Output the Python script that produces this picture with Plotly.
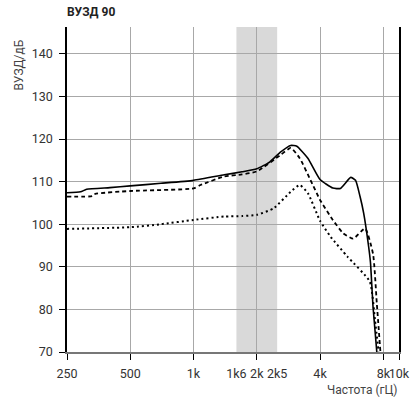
import math
import plotly.graph_objects as go

# ---- data (frequency in Hz, level in dB) ----
freq_solid = [250, 290, 310, 400, 500, 700, 1000, 1400, 1700, 2000, 2300, 2600, 2900, 3100, 3500, 4000, 4600, 5000, 5600, 5900, 6200, 6450, 6800, 6950, 7150, 7450]
lvl_solid = [107.4, 107.6, 108.2, 108.6, 109.0, 109.6, 110.3, 111.6, 112.3, 113.0, 114.6, 117.0, 118.5, 118.3, 115.5, 110.5, 108.5, 108.4, 111.0, 110.3, 106.5, 102.6, 95.0, 91.0, 80.5, 70.0]

freq_dash = [250, 330, 340, 500, 1000, 1080, 1400, 1700, 2000, 2600, 2900, 3200, 3600, 4000, 4600, 5150, 5750, 6550, 7150, 7450, 7750]
lvl_dash = [106.5, 106.6, 107.1, 107.8, 108.4, 109.2, 111.2, 111.7, 112.4, 116.3, 117.9, 115.5, 110.4, 105.7, 101.0, 97.9, 96.6, 99.0, 93.0, 81.4, 70.0]

freq_dot = [250, 500, 700, 1000, 1400, 1700, 2000, 2400, 2900, 3200, 3500, 4000, 4500, 5400, 6900, 7300, 7600]
lvl_dot = [98.9, 99.3, 100.0, 101.0, 101.8, 101.9, 102.2, 103.7, 107.6, 109.2, 107.3, 100.8, 97.0, 92.4, 86.5, 77.5, 70.0]

label_vals = [250, 500, 1000, 1600, 2000, 2500, 4000, 8000, 9500]
label_text = ["250", "500", "1k", "1k6", "2k", "2k5", "4k", "8k", "10k"]
grid_vals = [250, 500, 1000, 2000, 4000, 8000, 9500]
y_ticks = [70, 80, 90, 100, 110, 120, 130, 140]
band = [1600, 2500]

X_RANGE = [250, 9500]
Y_RANGE = [70, 146.3]
xr = [math.log10(X_RANGE[0]), math.log10(X_RANGE[1])]

FONT = "Roboto, Arial, sans-serif"

fig = go.Figure()
fig.add_trace(go.Scatter(x=freq_dot, y=lvl_dot, mode="lines",
                         line=dict(color="black", width=2, dash="2px,3px", shape="spline", smoothing=0.5),
                         showlegend=False, hoverinfo="skip"))
fig.add_trace(go.Scatter(x=freq_dash, y=lvl_dash, mode="lines",
                         line=dict(color="black", width=1.8, dash="4px,3px", shape="spline", smoothing=0.5),
                         showlegend=False, hoverinfo="skip"))
fig.add_trace(go.Scatter(x=freq_solid, y=lvl_solid, mode="lines",
                         line=dict(color="black", width=1.6, shape="spline", smoothing=0.5),
                         showlegend=False, hoverinfo="skip"))

fig.add_shape(type="rect", xref="x", yref="paper", x0=band[0], x1=band[1], y0=0, y1=1,
              fillcolor="#d9d9d9", line=dict(width=0), layer="below")

fig.update_layout(
    width=410, height=401,
    margin=dict(l=66.5, r=11, t=27, b=49.3, autoexpand=False),
    paper_bgcolor="white", plot_bgcolor="white",
    font=dict(family=FONT, size=12.5, color="#333"),
    xaxis=dict(type="log", range=xr, tickmode="array", tickvals=label_vals, ticktext=label_text,
               tickangle=0, ticks="", showgrid=False, zeroline=False, automargin=False,
               showline=True, linecolor="#777", linewidth=2,
               ticklabelstandoff=9, tickfont=dict(size=12.5, color="#333"),
               minor=dict(tickmode="array", tickvals=grid_vals, ticks="outside", ticklen=6,
                          tickcolor="black", tickwidth=1.2, showgrid=True,
                          gridcolor="#a8a8a8", gridwidth=1)),
    yaxis=dict(range=Y_RANGE, tickmode="array", tickvals=y_ticks, automargin=False,
               ticks="outside", ticklen=6, tickcolor="black", tickwidth=1.2,
               showgrid=True, gridcolor="#a8a8a8", gridwidth=1, zeroline=False,
               showline=True, linecolor="black", linewidth=1.5, mirror=True,
               ticklabelstandoff=4, tickfont=dict(size=12.5, color="#333")),
)

fig.add_annotation(text="<b>ВУЗД 90</b>", xref="paper", yref="paper", x=-0.005, y=1.046,
                   xanchor="left", yanchor="middle", showarrow=False,
                   font=dict(family=FONT, size=12, color="#222"))
fig.add_annotation(text="ВУЗД/дБ", xref="paper", yref="paper", x=-0.146, y=0.883,
                   xanchor="center", yanchor="middle", textangle=-90, showarrow=False,
                   font=dict(family=FONT, size=12, color="#444"))
fig.add_annotation(text="Частота (гЦ)", xref="paper", yref="paper", x=1.004, y=-0.118,
                   xanchor="right", yanchor="middle", showarrow=False,
                   font=dict(family=FONT, size=12, color="#444"))

fig.write_html("out.html")
